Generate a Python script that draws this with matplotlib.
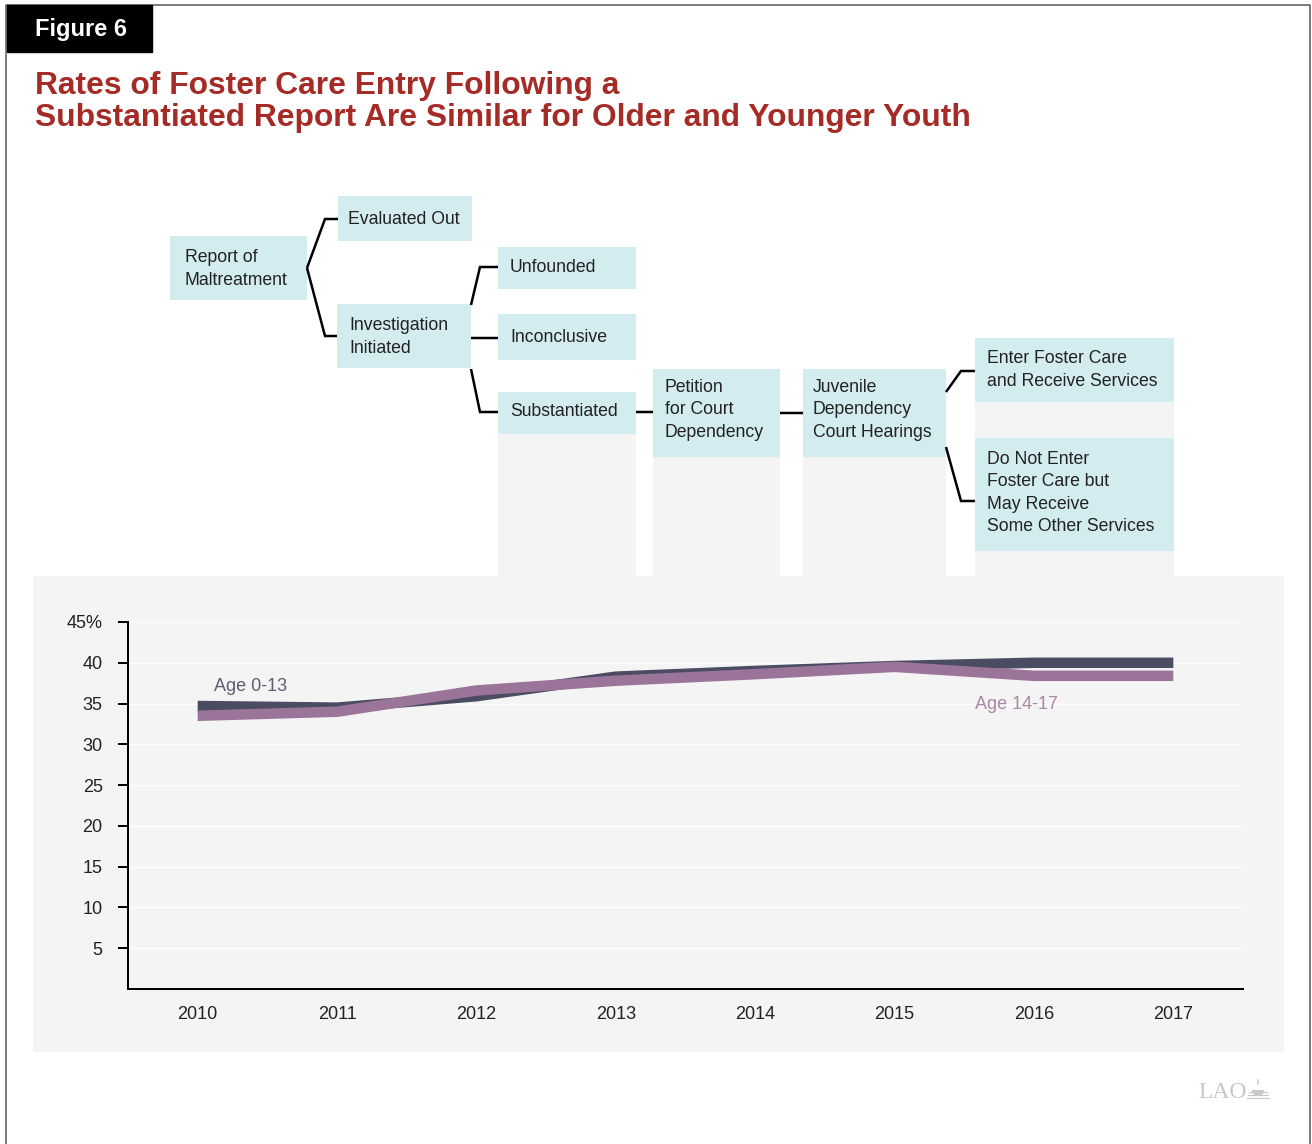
import matplotlib.pyplot as plt
from matplotlib.patches import Rectangle, Wedge

plt.rcParams['font.family'] = ['Liberation Sans', 'DejaVu Sans']

# foster care entry rates (%) after a substantiated report
years = [2010, 2011, 2012, 2013, 2014, 2015, 2016, 2017]
age_0_13 = [34.7, 34.5, 35.9, 38.3, 39.0, 39.6, 40.0, 40.0]
age_14_17 = [33.5, 34.0, 36.6, 37.8, 38.6, 39.5, 38.4, 38.4]

y_ticks = [5, 10, 15, 20, 25, 30, 35, 40, 45]
y_tick_labels = ["5", "10", "15", "20", "25", "30", "35", "40", "45%"]

title_lines = ["Rates of Foster Care Entry Following a",
               "Substantiated Report Are Similar for Older and Younger Youth"]

# flowchart step labels
step_labels = {
    "report": "Report of\nMaltreatment",
    "evaluated": "Evaluated Out",
    "investigation": "Investigation\nInitiated",
    "unfounded": "Unfounded",
    "inconclusive": "Inconclusive",
    "substantiated": "Substantiated",
    "petition": "Petition\nfor Court\nDependency",
    "hearings": "Juvenile\nDependency\nCourt Hearings",
    "enter": "Enter Foster Care\nand Receive Services",
    "not_enter": "Do Not Enter\nFoster Care but\nMay Receive\nSome Other Services",
}

BOX = "#d2ecef"
PANEL = "#f4f4f4"
DARK = "#4a4c62"
PURPLE = "#9b7499"
RED = "#a52b26"
TXT = "#222222"
PX = 0.72  # one pixel in points at 100 dpi

fig = plt.figure(figsize=(13.12, 11.44), dpi=100)
bg = fig.add_axes([0, 0, 1, 1])
bg.set_xlim(0, 1312)
bg.set_ylim(1144, 0)
bg.axis("off")

# page frame and figure tag
bg.plot([6, 6, 1310, 1310], [1144, 5, 5, 1144], color="#555555", lw=1.5 * PX)
bg.add_patch(Rectangle((7, 5), 145, 47, color="black", zorder=3))
bg.text(35, 36, "Figure 6", color="white", fontsize=17, fontweight="bold",
        va="baseline", zorder=4)
bg.text(35, 94, title_lines[0], color=RED, fontsize=22.85, fontweight="bold",
        va="baseline")
bg.text(35, 126, title_lines[1], color=RED, fontsize=22.85, fontweight="bold",
        va="baseline")

# gray panel behind the line chart
bg.add_patch(Rectangle((33, 576), 1251, 476, color=PANEL, lw=0))

# box geometry: x, y, w, h, text x-offset, text y-centre
boxes = {
    "report": (170, 236, 137, 64, 15, 269),
    "evaluated": (338, 196, 134, 45, 10, 219),
    "investigation": (337, 304, 134, 64, 12, 337),
    "unfounded": (498, 247, 138, 42, 12, 268),
    "inconclusive": (498, 314, 138, 46, 12, 337),
    "substantiated": (498, 392, 138, 42, 12, 412),
    "petition": (653, 369, 127, 88, 12, 410),
    "hearings": (803, 369, 143, 88, 10, 410),
    "enter": (975, 338, 199, 64, 12, 370),
    "not_enter": (975, 438, 199, 113, 12, 493),
}

# gray columns dropping from the later steps into the chart panel
for key in ["substantiated", "petition", "hearings", "enter"]:
    x, y, w, h, _, _ = boxes[key]
    bg.add_patch(Rectangle((x, y), w, 576 - y, color=PANEL, lw=0))

for key, (x, y, w, h, dx, ty) in boxes.items():
    bg.add_patch(Rectangle((x, y), w, h, color=BOX, lw=0, zorder=2))
    bg.text(x + dx, ty, step_labels[key], fontsize=12.7, color=TXT,
            va="center", ha="left", linespacing=1.4, zorder=3)

# connectors
connectors = [
    [(307, 268), (325, 219), (338, 219)],
    [(307, 268), (325, 336), (337, 336)],
    [(471, 305), (480, 267), (498, 267)],
    [(471, 338), (498, 338)],
    [(471, 369), (480, 412), (498, 412)],
    [(636, 412), (653, 412)],
    [(780, 413), (803, 413)],
    [(946, 392), (961, 371), (975, 371)],
    [(946, 447), (961, 501), (975, 501)],
]
for pts in connectors:
    xs, ys = zip(*pts)
    bg.plot(xs, ys, color="black", lw=2.5 * PX, solid_joinstyle="miter",
            solid_capstyle="butt", zorder=3)

# LAO mark with a small capitol dome
LOGO = "#c8c8c8"
bg.text(1198, 1098, "LAO", family="Liberation Serif", fontsize=17,
        color=LOGO, va="baseline")
bg.add_patch(Wedge((1258, 1090), 6, 0, 180, color=LOGO, lw=0))
bg.plot([1258, 1258], [1080, 1084], color=LOGO, lw=1.5 * PX)
for yy, half in [(1092, 9), (1095, 10), (1098, 11)]:
    bg.plot([1258 - half, 1258 + half], [yy, yy], color=LOGO, lw=1.2 * PX)

# line chart
ax = fig.add_axes([128 / 1312, (1144 - 989) / 1144,
                   (1243 - 128) / 1312, (989 - 622) / 1144])
ax.patch.set_alpha(0)
ax.set_xlim(2009.5, 2017.5)
ax.set_ylim(0, 45)

ax.plot(years, age_0_13, color=DARK, lw=10.5 * PX, solid_capstyle="butt",
        solid_joinstyle="round", zorder=3)
ax.plot(years, age_14_17, color=PURPLE, lw=10.5 * PX, solid_capstyle="butt",
        solid_joinstyle="round", zorder=4)

ax.text(2010.115, 37.15, "Age 0-13", color="#5c5e72", fontsize=13, va="center")
ax.text(2015.58, 34.9, "Age 14-17", color="#a888a6", fontsize=13, va="center")

ax.set_yticks(y_ticks)
ax.set_yticklabels(y_tick_labels)
ax.set_xticks(years)
ax.set_xticklabels([str(y) for y in years])
ax.grid(axis="y", color="white", lw=1.2 * PX, zorder=0)
ax.set_axisbelow(True)

for side in ["top", "right"]:
    ax.spines[side].set_visible(False)
for side in ["left", "bottom"]:
    ax.spines[side].set_color("black")
    ax.spines[side].set_linewidth(2 * PX)

ax.tick_params(axis="y", length=10 * PX, width=2 * PX, pad=11, labelsize=13,
               labelcolor=TXT)
ax.tick_params(axis="x", length=0, pad=12, labelsize=13, labelcolor=TXT)

fig.savefig("out.png", dpi=100)
